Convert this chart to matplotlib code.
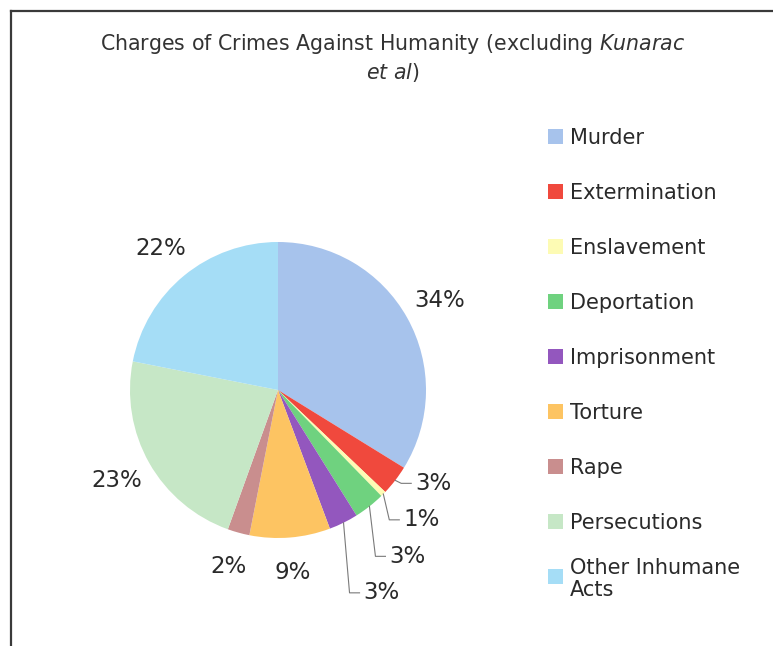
import matplotlib
matplotlib.use("Agg")
import matplotlib.pyplot as plt
import numpy as np
from matplotlib.patches import Rectangle

# data (percent shares, pie starts at 12 o'clock, clockwise)
categories = ["Murder", "Extermination", "Enslavement", "Deportation", "Imprisonment",
              "Torture", "Rape", "Persecutions", "Other Inhumane\nActs"]
shares = [33.8, 3.3, 0.6, 3.4, 3.2, 8.8, 2.4, 22.6, 21.9]
colors = ["#a7c3ec", "#f0493d", "#fdfbb4", "#6fd27f", "#9357be",
          "#fdc462", "#c98e8e", "#c6e7c6", "#a5ddf6"]

W, H = 773, 646
plt.rcParams['mathtext.fontset'] = 'dejavusans'

fig = plt.figure(figsize=(W / 100, H / 100), dpi=100)
ax = fig.add_axes([0, 0, 1, 1])

# pixel-like data coords, y up
cx, cy, R = 278, H - 390, 148
wedges, _ = ax.pie(shares, colors=colors, startangle=90, counterclock=False,
                   center=(cx, cy), radius=R, wedgeprops=dict(linewidth=0))
ax.set_xlim(0, W)
ax.set_ylim(0, H)
ax.set_aspect('equal')
ax.axis('off')

txt_col = "#2a2a2a"
lead_i = 0
first_ly = None
for w, v in zip(wedges, shares):
    mid = np.deg2rad((w.theta1 + w.theta2) / 2)
    d = np.array([np.cos(mid), np.sin(mid)])
    label = "%d%%" % round(v)
    if v < 5 and d[0] > 0:
        # small slices on the right get a leader line and stacked labels
        ax_, ay_ = cx + R * d[0], cy + R * d[1]
        if first_ly is None:
            first_ly = ay_ - 3
        ly = first_ly - 36.5 * lead_i
        lead_i += 1
        ax.plot([ax_, ax_ + 6, ax_ + 16], [ay_, ly, ly], color="#7a7a7a", lw=0.8)
        ax.text(ax_ + 20, ly, label, ha='left', va='center', fontsize=16.5, color=txt_col)
    else:
        ax.text(cx + R * 1.25 * d[0], cy + R * 1.24 * d[1], label,
                ha='center', va='center', fontsize=16.5, color=txt_col)

# legend drawn by hand
for i, (name, c) in enumerate(zip(categories, colors)):
    y = H - (136 + 55 * i)
    ax.add_patch(Rectangle((548, y - 7.5), 15, 15, facecolor=c, edgecolor='none'))
    ax.text(570, y, name, ha='left', va='center_baseline', fontsize=15,
            color=txt_col, linespacing=1.15)

# title (Kunarac et al in italics)
ax.text(393, H - 44, r"Charges of Crimes Against Humanity (excluding $\mathit{Kunarac}$",
        ha='center', va='center', fontsize=14.8, color="#333333")
ax.text(393, H - 72, r"$\mathit{et\ al}$)", ha='center', va='center',
        fontsize=14.8, color="#333333")

# frame around the chart
ax.plot([11, W], [H - 11, H - 11], color="#3a3a3a", lw=1.6)
ax.plot([11, 11], [0, H - 11], color="#3a3a3a", lw=1.6)

fig.savefig("out.png", dpi=100)
